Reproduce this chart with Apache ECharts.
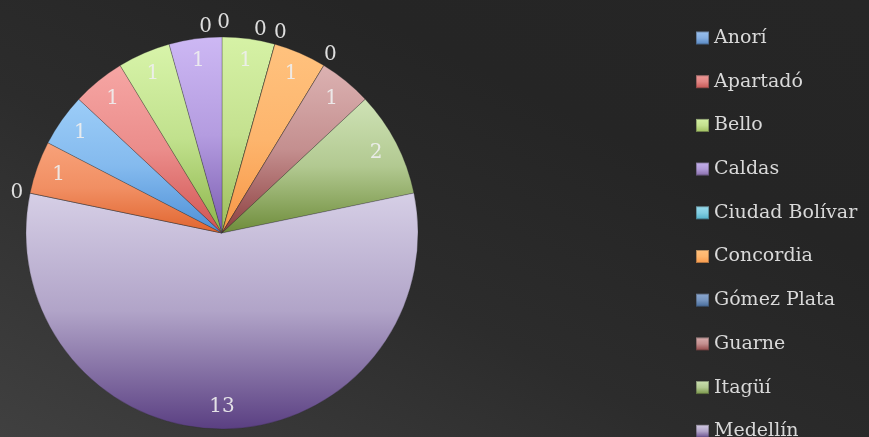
<!DOCTYPE html>
<html>
<head>
<meta charset="utf-8">
<script src="https://cdn.jsdelivr.net/npm/echarts@6/dist/echarts.min.js"></script>
<style>
html, body { margin: 0; padding: 0; }
#chart {
  width: 869px; height: 437px;
  background: linear-gradient(to top right, #404040 0%, #2c2c2c 40%, #252525 70%, #262626 100%);
}
</style>
</head>
<body>
<div id="chart"></div>
<script>
// municipios y numero de casos
var municipios = ['Anorí', 'Apartadó', 'Bello', 'Caldas', 'Ciudad Bolívar', 'Concordia',
  'Gómez Plata', 'Guarne', 'Itagüí', 'Medellín', 'Rionegro', 'Sabaneta',
  'San Jerónimo', 'Santa Fe de Antioquia', 'Sonsón', 'Yarumal'];
var casos = [0, 0, 1, 0, 0, 1, 0, 1, 2, 13, 0, 1, 1, 1, 1, 1];

// colores: parte clara (arriba) y base (abajo) de cada tajada
var colorTop = ['#9cc2ef', '#f09c9a', '#d6f2a6', '#c6b2ee', '#9adcee', '#ffc27e', '#8eaad2', '#dcb2b2',
  '#cfe3b6', '#d6cfe6', '#8fd0e2', '#f8a27a', '#9ccdf8', '#f6a6a4', '#d8f4aa', '#cdb8f4'];
var colorBottom = ['#4f81bd', '#c0504d', '#9bbb59', '#8064a2', '#4bacc6', '#f79646', '#3e6494', '#8c3e3e',
  '#6e8c3a', '#5a3f82', '#357d91', '#e0642e', '#4d8fd6', '#d05250', '#8cb44a', '#7a5cb0'];

// ajuste de las etiquetas de ceros: [length, length2] de la linea guia (oculta)
var zeroLabelPlace = {
  'Anorí': [10, 10],
  'Apartadó': [14, -8],
  'Caldas': [15, -25],
  'Ciudad Bolívar': [12, -4],
  'Gómez Plata': [12, -6],
  'Rionegro': [2, 5]
};

function mix(a, b, t) {
  var pa = parseInt(a.slice(1), 16), pb = parseInt(b.slice(1), 16);
  var r = Math.round(((pa >> 16) & 255) * (1 - t) + ((pb >> 16) & 255) * t);
  var g = Math.round(((pa >> 8) & 255) * (1 - t) + ((pb >> 8) & 255) * t);
  var bl = Math.round((pa & 255) * (1 - t) + (pb & 255) * t);
  return 'rgb(' + r + ',' + g + ',' + bl + ')';
}

var pieData = municipios.map(function (n, i) {
  return {
    name: n,
    value: casos[i],
    itemStyle: {
      color: new echarts.graphic.LinearGradient(0, 0, 0, 1, [
        { offset: 0, color: colorTop[i] },
        { offset: 0.5, color: mix(colorTop[i], colorBottom[i], 0.3) },
        { offset: 1, color: colorBottom[i] }
      ])
    }
  };
});

var labelData = municipios.map(function (n, i) {
  var item = { name: n, value: casos[i] };
  if (casos[i] === 0) {
    var p = zeroLabelPlace[n] || [10, 4];
    item.label = { position: 'outside' };
    item.labelLine = { show: false, length: p[0], length2: p[1] };
  }
  return item;
});

var chart = echarts.init(document.getElementById('chart'));
var option = {
  animation: false,
  backgroundColor: 'transparent',
  legend: {
    data: municipios,
    orient: 'vertical',
    left: 695,
    top: 26,
    height: 2000,
    padding: 0,
    itemWidth: 13,
    itemHeight: 13,
    itemGap: 19.7,
    icon: 'rect',
    selectedMode: false,
    textStyle: {
      color: '#d9d9d9',
      fontFamily: 'DejaVu Serif',
      fontSize: 19,
      lineHeight: 24
    }
  },
  series: [
    {
      type: 'pie',
      center: [222, 233],
      radius: [0, 196],
      startAngle: 90,
      clockwise: true,
      avoidLabelOverlap: false,
      label: { show: false },
      labelLine: { show: false },
      itemStyle: { borderColor: 'rgba(40,40,40,0.35)', borderWidth: 0.8 },
      emphasis: { disabled: true },
      data: pieData
    },
    {
      // anillo invisible solo para ubicar las etiquetas cerca del borde
      type: 'pie',
      center: [222, 233],
      radius: [145, 196],
      startAngle: 90,
      clockwise: true,
      silent: true,
      avoidLabelOverlap: false,
      itemStyle: { color: 'rgba(0,0,0,0)' },
      label: {
        show: true,
        position: 'inside',
        formatter: '{c}',
        distanceToLabelLine: 0,
        color: 'rgba(238,238,238,0.92)',
        fontFamily: 'DejaVu Serif',
        fontSize: 20
      },
      labelLine: { show: false },
      emphasis: { disabled: true },
      data: labelData
    }
  ]
};
chart.setOption(option);
</script>
</body>
</html>
